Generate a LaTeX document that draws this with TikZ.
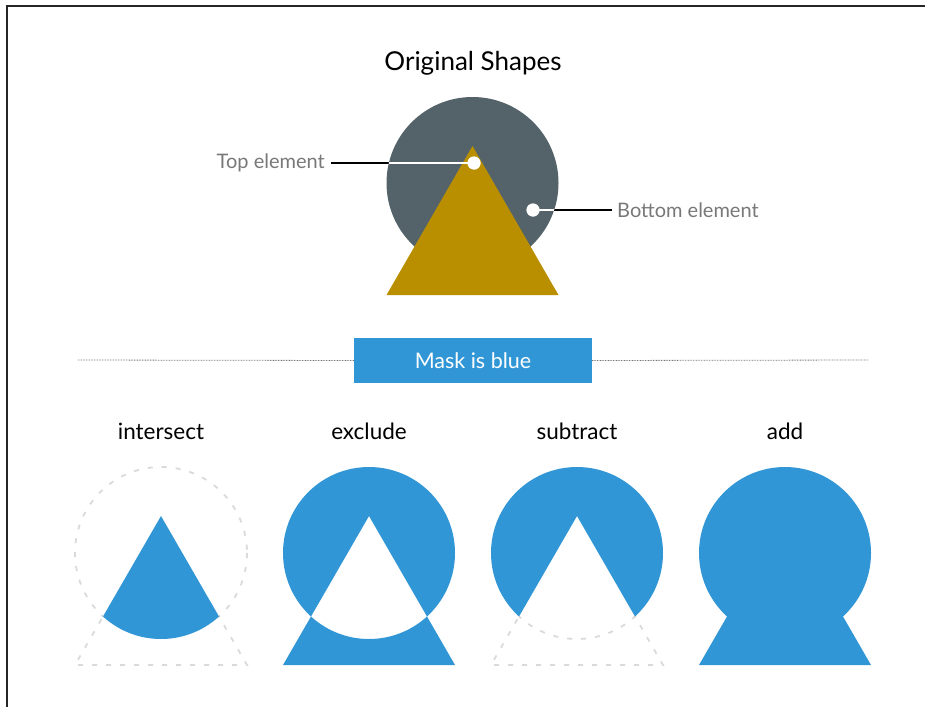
\documentclass[tikz,border=0pt]{standalone}
\usepackage{fontspec}
\setmainfont{Lato}
\begin{document}
\definecolor{slate}{HTML}{546369}
\definecolor{gold}{HTML}{B98F00}
\definecolor{maskblue}{HTML}{3196D6}
\definecolor{ghost}{HTML}{DADADA}
\definecolor{labelgray}{HTML}{787878}
% circle and triangle of one group, centred at (#1,#2)
\newcommand\circpath[2]{(#1,#2) circle[radius=86]}
\newcommand\tripath[2]{(#1,#2-37) -- (#1+86,#2+112) -- (#1-86,#2+112) -- cycle}
\newcommand\outside{(-2000,-2000) rectangle (3000,3000)}
\begin{tikzpicture}[x=1pt,y=-1pt,
  heading/.style={font=\fontsize{26}{30}\selectfont, text=black},
  oplabel/.style={font=\fontsize{22.5}{26}\selectfont, text=black},
  calloutlbl/.style={font=\fontsize{20}{24}\selectfont, text=labelgray, inner sep=0pt},
  pin/.style={circle, fill=white, minimum size=13, inner sep=0pt},
  leader/.style={line width=2.8pt},
  ghostline/.style={draw=ghost, line width=1.8pt, dash pattern=on 5pt off 9pt},
  maskfill/.style={fill=maskblue},
]
\useasboundingbox (0,0) rectangle (925,707);
% frame
\draw[line width=1.5pt, black!85] (7,707) -- (7,6) -- (925,6);

% ---- original shapes ----
\node[heading] (title) at (473,63) {Original Shapes};
\fill[slate] \circpath{472.5}{183};
\fill[gold] \tripath{472.5}{183};

\node[pin] (topdot) at (474,163) {};
\node[calloutlbl, anchor=east] (toplbl) at (325,163) {Top element};
\draw[leader] ([xshift=6pt]toplbl.east) -- (topdot.center);
\begin{scope}
  \clip \circpath{472.5}{183};
  \draw[leader, white] ([xshift=6pt]toplbl.east) -- (topdot.center);
\end{scope}
\node[pin] at (topdot) {};

\node[pin] (botdot) at (533,210) {};
\node[calloutlbl, anchor=west] (botlbl) at (617,210) {Bottom element};
\draw[leader] (botdot.center) -- ([xshift=-5pt]botlbl.west);
\begin{scope}
  \clip \circpath{472.5}{183};
  \draw[leader, white] (botdot.center) -- ([xshift=-5pt]botlbl.west);
\end{scope}
\node[pin] at (botdot) {};

% ---- divider ----
\node[fill=maskblue, minimum width=238, minimum height=45, inner sep=0pt,
      text=white, font=\fontsize{21.5}{25}\selectfont] (mask) at (473,360.5) {Mask is blue};
\coordinate (divl) at (78,360);
\coordinate (divr) at (868,360);
\draw[black!55, line width=0.8pt, dash pattern=on 0.8pt off 0.8pt] (divl) -- (mask.west);
\draw[black!55, line width=0.8pt, dash pattern=on 0.8pt off 0.8pt] (mask.east) -- (divr);

% ---- operation labels ----
\node[oplabel] (lint) at (161,431) {intersect};
\node[oplabel] (lexc) at (369,431) {exclude};
\node[oplabel] (lsub) at (577,431) {subtract};
\node[oplabel] (ladd) at (785,431) {add};

% intersect
\begin{scope}[even odd rule]
  \clip \outside \tripath{161}{553};
  \draw[ghostline] \circpath{161}{553};
\end{scope}
\begin{scope}[even odd rule]
  \clip \outside \circpath{161}{553};
  \draw[ghostline] \tripath{161}{553};
\end{scope}
\begin{scope}
  \clip \circpath{161}{553};
  \fill[maskfill] \tripath{161}{553};
\end{scope}

% exclude
\fill[maskfill, even odd rule] \circpath{369}{553} \tripath{369}{553};

% subtract
\begin{scope}[even odd rule]
  \clip \outside \circpath{577}{553};
  \draw[ghostline] \tripath{577}{553};
\end{scope}
\begin{scope}
  \clip \tripath{577}{553};
  \draw[ghostline] \circpath{577}{553};
\end{scope}
\begin{scope}[even odd rule]
  \clip \outside \tripath{577}{553};
  \fill[maskfill] \circpath{577}{553};
\end{scope}

% add
\fill[maskfill] \circpath{785}{553};
\fill[maskfill] \tripath{785}{553};
\end{tikzpicture}
\end{document}
